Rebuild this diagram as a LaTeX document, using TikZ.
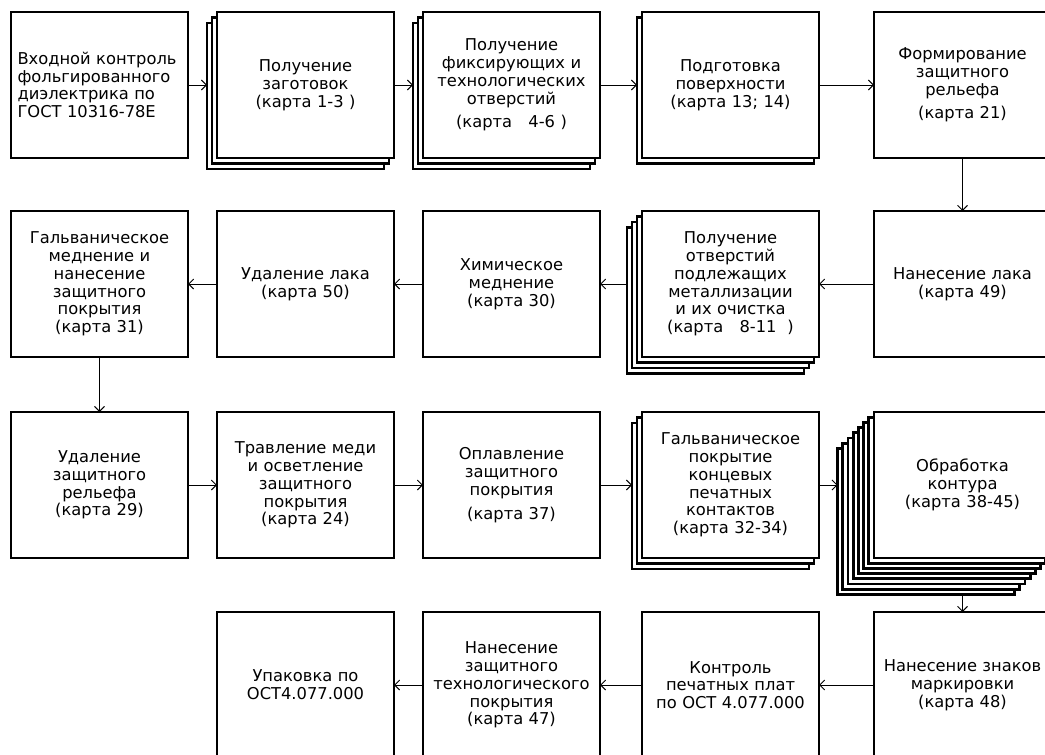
\documentclass[tikz,border=0pt]{standalone}
\usepackage{fontspec}
\setmainfont{DejaVu Sans}
\usetikzlibrary{arrows.meta}

\tikzset{
    box/.style={draw, line width=2.9pt, fill=white, anchor=north west,
        outer sep=0pt, inner sep=0pt, minimum width=177pt, minimum height=146pt,
        text width=170pt, align=center, font=\fontsize{16.3}{17.8}\selectfont},
    flow/.style={-{Straight Barb[length=5pt,width=10pt]}, line width=0.9pt},
}

\begin{document}
\begin{tikzpicture}[x=1pt, y=-1pt]
    \useasboundingbox (0,0) rectangle (1045,755);
    \fill[white] (0,0) rectangle (1045,755);
    \clip (0,0) rectangle (1045,755);

    % row 1
    \node[box, align=left, text width=164pt] (vhod) at (11,12)
    {Входной контроль\\фольгированного\\диэлектрика по\\ГОСТ 10316-78Е};

    \foreach \k in {2,1}
        \node[box] (zagot-\k) at ({217-5*\k},{12+5.5*\k}) {};
    \node[box] (zagot) at (217,12) {Получение\\заготовок\\(карта 1-3 )};

    \foreach \k in {2,1}
        \node[box] (otv-\k) at ({423-5*\k},{12+5.5*\k}) {};
    \node[box] (otv) at (423,12)
    {Получение\\фиксирующих и\\технологических\\отверстий\\[6pt](карта \ \ 4-6 )};

    \node[box] (podg-1) at (637,17.5) {};
    \node[box] (podg) at (642,12) {Подготовка\\поверхности\\(карта 13; 14)};

    \node[box] (relef) at (874,12)
    {Формирование\\защитного\\рельефа\\[6pt](карта 21)};

    % row 2
    \node[box] (lak) at (874,211) {Нанесение лака\\(карта 49)};

    \foreach \k in {3,2,1}
        \node[box] (metal-\k) at ({642-5*\k},{211+5.5*\k}) {};
    \node[box] (metal) at (642,211)
    {Получение\\отверстий\\подлежащих\\металлизации\\и их очистка\\(карта \ \ 8-11 \ )};

    \node[box] (himmed) at (423,211) {Химическое\\меднение\\(карта 30)};

    \node[box] (udlak) at (217,211) {Удаление лака\\(карта 50)};

    \node[box] (galvmed) at (11,211)
    {Гальваническое\\меднение и\\нанесение\\защитного\\покрытия\\(карта 31)};

    % row 3
    \node[box] (udrel) at (11,412) {Удаление\\защитного\\рельефа\\(карта 29)};

    \node[box] (travl) at (217,412)
    {Травление меди\\и осветление\\защитного\\покрытия\\(карта 24)};

    \node[box] (oplav) at (423,412)
    {Оплавление\\защитного\\покрытия\\[6pt](карта 37)};

    \foreach \k in {2,1}
        \node[box] (galvpok-\k) at ({642-5*\k},{412+5.5*\k}) {};
    \node[box] (galvpok) at (642,412)
    {Гальваническое\\покрытие\\концевых\\печатных\\контактов\\(карта 32-34)};

    \foreach \k in {7,6,...,1}
        \node[box] (kontur-\k) at ({874-5.2*\k},{412+5.2*\k}) {};
    \node[box] (kontur) at (874,412) {Обработка\\контура\\(карта 38-45)};

    % row 4
    \node[box] (mark) at (874,612) {Нанесение знаков\\маркировки\\(карта 48)};

    \node[box] (kontrol) at (642,612) {Контроль\\печатных плат\\по ОСТ 4.077.000};

    \node[box] (zaschit) at (423,612)
    {Нанесение\\защитного\\технологического\\покрытия\\(карта 47)};

    \node[box] (upak) at (217,612) {Упаковка по\\ОСТ4.077.000};

    % connectors
    \draw[flow] (vhod.east) -- (vhod.east -| zagot-2.west);
    \draw[flow] (zagot.east) -- (zagot.east -| otv-2.west);
    \draw[flow] (otv.east) -- (otv.east -| podg-1.west);
    \draw[flow] (podg.east) -- (relef.west);
    \draw[flow] (relef.south) -- (lak.north);
    \draw[flow] (lak.west) -- (metal.east);
    \draw[flow] (metal-3.west |- metal.west) -- (himmed.east);
    \draw[flow] (himmed.west) -- (udlak.east);
    \draw[flow] (udlak.west) -- (galvmed.east);
    \draw[flow] (galvmed.south) -- (udrel.north);
    \draw[flow] (udrel.east) -- (travl.west);
    \draw[flow] (travl.east) -- (oplav.west);
    \draw[flow] (oplav.east) -- (oplav.east -| galvpok-2.west);
    \draw[flow] (galvpok.east) -- (galvpok.east -| kontur-7.west);
    \draw[flow] (kontur-7.south -| mark.north) -- (mark.north);
    \draw[flow] (mark.west) -- (kontrol.east);
    \draw[flow] (kontrol.west) -- (zaschit.east);
    \draw[flow] (zaschit.west) -- (upak.east);
\end{tikzpicture}
\end{document}
